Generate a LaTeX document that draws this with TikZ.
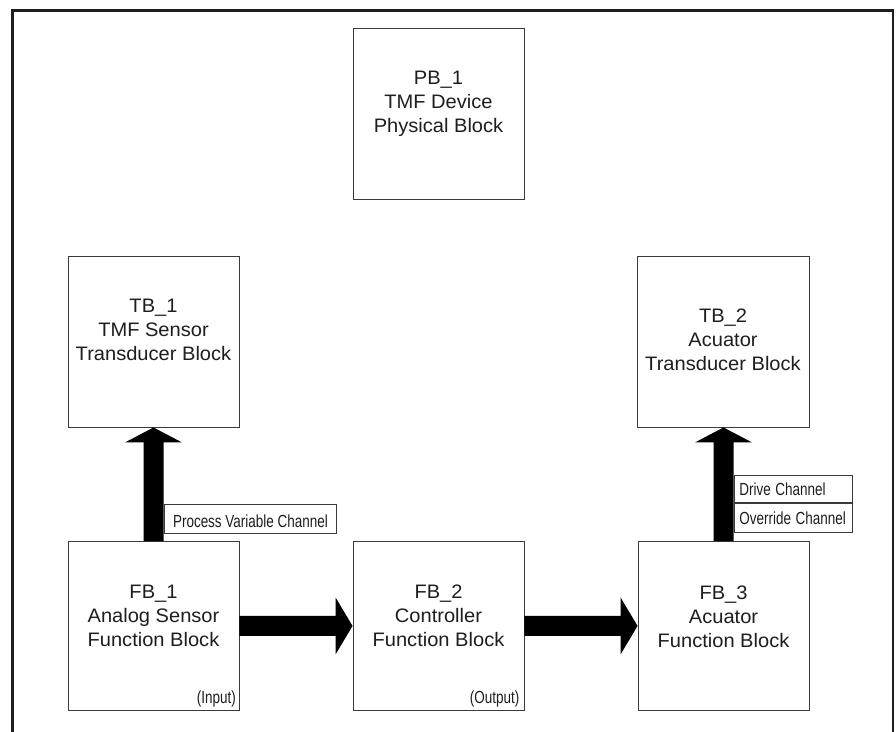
\documentclass[tikz,border=0pt]{standalone}
\usepackage{fontspec}
\usepackage{graphicx}
\setmainfont{Liberation Sans}
\usetikzlibrary{calc}
\definecolor{ink}{HTML}{1E1E1E}
\definecolor{edge}{HTML}{3A3A3A}
\newcommand{\blk}[1]{\scalebox{1.03}[1]{\begin{tabular}{@{}c@{}}#1\end{tabular}}}
\newcommand{\lab}[1]{\scalebox{0.77}[1]{#1}}
\begin{document}
\begin{tikzpicture}[x=1pt,y=1pt,
  blockbox/.style={draw=edge, line width=0.9pt, minimum width=171pt, minimum height=171pt, inner sep=0pt},
  fbbox/.style={blockbox, minimum height=169pt, anchor=north},
  blocktext/.style={text=ink, font=\fontsize{19.5}{24}\selectfont, inner sep=0pt},
  smalltext/.style={text=ink, font=\fontsize{17.5}{20}\selectfont, inner sep=0pt},
  chanbox/.style={draw=edge, line width=0.9pt, fill=white, text=ink, font=\fontsize{17.5}{20}\selectfont},
  fatarrow/.style={fill=black}
]
\useasboundingbox (0,0) rectangle (896,731);
\clip (0,0) rectangle (896,731);
\fill[white] (0,0) rectangle (896,731);

% outer frame (open at the bottom)
\draw[line width=2.6pt, draw=ink] (12.5,-10) -- (12.5,720.5) -- (893,720.5) -- (893,-10);

% blocks
\node[blockbox] (pb) at (438.5,617) {};
\node[blockbox] (tb1) at (153.5,389.5) {};
\node[blockbox, minimum width=172pt] (tb2) at (723,389.5) {};
\node[fbbox] (fb1) at (153.5,190) {};
\node[fbbox] (fb2) at (438.5,190) {};
\node[fbbox] (fb3) at (723.5,190) {};

% block texts
\node[blocktext] (pbt) at ([yshift=9.8pt]pb.center) {\blk{PB\_1\\TMF Device\\Physical Block}};
\node[blocktext] (tb1t) at ([yshift=9.6pt]tb1.center) {\blk{TB\_1\\TMF Sensor\\Transducer Block}};
\node[blocktext] (tb2t) at ([yshift=-0.4pt]tb2.center) {\blk{TB\_2\\Acuator\\Transducer Block}};
\node[blocktext] (fb1t) at ([yshift=7.8pt]fb1.center) {\blk{FB\_1\\Analog Sensor\\Function Block}};
\node[blocktext] (fb2t) at ([yshift=7.8pt]fb2.center) {\blk{FB\_2\\Controller\\Function Block}};
\node[blocktext] (fb3t) at ([yshift=7.5pt]fb3.center) {\blk{FB\_3\\Acuator\\Function Block}};

\node[smalltext, anchor=east] (inp) at ([xshift=-3.5pt,yshift=12pt]fb1.south east) {\lab{(Input)}};
\node[smalltext, anchor=east] (outp) at ([xshift=-5pt,yshift=12pt]fb2.south east) {\lab{(Output)}};

% horizontal fat arrows
\fill[fatarrow] let \p1=(fb1.east), \p2=(fb2.west) in
  (\x1,\y1+10pt) -- (\x2-17pt,\y1+10pt) -- (\x2-17pt,\y1+28.5pt) -- (\x2,\y1)
  -- (\x2-17pt,\y1-28.5pt) -- (\x2-17pt,\y1-10pt) -- (\x1,\y1-10pt) -- cycle;
\fill[fatarrow] let \p1=(fb2.east), \p2=(fb3.west) in
  (\x1,\y1+10pt) -- (\x2-17pt,\y1+10pt) -- (\x2-17pt,\y1+28.5pt) -- (\x2,\y1)
  -- (\x2-17pt,\y1-28.5pt) -- (\x2-17pt,\y1-10pt) -- (\x1,\y1-10pt) -- cycle;

% vertical fat arrows
\fill[fatarrow] let \p1=(fb1.north), \p2=(tb1.south) in
  (\x1-10pt,\y1) -- (\x1-10pt,\y2-15pt) -- (\x1-28.5pt,\y2-15pt) -- (\x1,\y2)
  -- (\x1+28.5pt,\y2-15pt) -- (\x1+10pt,\y2-15pt) -- (\x1+10pt,\y1) -- cycle;
\fill[fatarrow] let \p1=(fb3.north), \p2=(tb2.south) in
  (\x1-10pt,\y1) -- (\x1-10pt,\y2-15pt) -- (\x1-28.5pt,\y2-15pt) -- (\x1,\y2)
  -- (\x1+28.5pt,\y2-15pt) -- (\x1+10pt,\y2-15pt) -- (\x1+10pt,\y1) -- cycle;

% channel labels
\node[chanbox, anchor=south west, minimum width=172pt, minimum height=29pt, inner sep=0pt, text height=18pt, text depth=0pt]
  (pvc) at ([xshift=10.5pt,yshift=7.5pt]fb1.north) {\lab{Process Variable Channel}};
\node[chanbox, anchor=south west, text width=108pt, inner xsep=5pt, inner ysep=0pt, minimum height=29pt, align=left]
  (ovc) at ([xshift=10.5pt,yshift=8pt]fb3.north) {\lab{Override Channel}};
\node[chanbox, anchor=south west, text width=108pt, inner xsep=5pt, inner ysep=0pt, minimum height=27pt, align=left]
  (drc) at (ovc.north west) {\lab{Drive Channel}};
\end{tikzpicture}
\end{document}
